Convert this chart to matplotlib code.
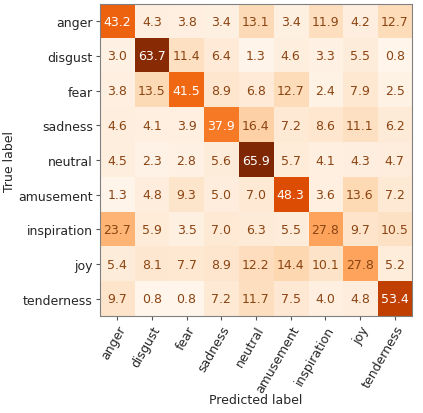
import numpy as np
import matplotlib
matplotlib.use("Agg")
import matplotlib.pyplot as plt

# class names
labels = ["anger", "disgust", "fear", "sadness", "neutral",
          "amusement", "inspiration", "joy", "tenderness"]

# confusion matrix values (percent), rows = true, cols = predicted
anger       = [43.2, 4.3, 3.8, 3.4, 13.1, 3.4, 11.9, 4.2, 12.7]
disgust     = [3.0, 63.7, 11.4, 6.4, 1.3, 4.6, 3.3, 5.5, 0.8]
fear        = [3.8, 13.5, 41.5, 8.9, 6.8, 12.7, 2.4, 7.9, 2.5]
sadness     = [4.6, 4.1, 3.9, 37.9, 16.4, 7.2, 8.6, 11.1, 6.2]
neutral     = [4.5, 2.3, 2.8, 5.6, 65.9, 5.7, 4.1, 4.3, 4.7]
amusement   = [1.3, 4.8, 9.3, 5.0, 7.0, 48.3, 3.6, 13.6, 7.2]
inspiration = [23.7, 5.9, 3.5, 7.0, 6.3, 5.5, 27.8, 9.7, 10.5]
joy         = [5.4, 8.1, 7.7, 8.9, 12.2, 14.4, 10.1, 27.8, 5.2]
tenderness  = [9.7, 0.8, 0.8, 7.2, 11.7, 7.5, 4.0, 4.8, 53.4]

cm = np.array([anger, disgust, fear, sadness, neutral,
               amusement, inspiration, joy, tenderness])

fs = 9
fig = plt.figure(figsize=(4.23, 4.14), dpi=100)
ax = fig.add_axes([0.236, 0.234, 0.738, 0.754])
ax.imshow(cm, cmap="Oranges", interpolation="nearest", aspect="auto")

thresh = cm.max() / 2.0
for i in range(cm.shape[0]):
    for j in range(cm.shape[1]):
        ax.text(j, i, "{:.1f}".format(cm[i, j]), ha="center", va="center",
                fontsize=fs,
                color="white" if cm[i, j] > thresh else "saddlebrown")

ax.set_xticks(np.arange(len(labels)))
ax.set_yticks(np.arange(len(labels)))
ax.set_xticklabels(labels, rotation=60, ha="right", rotation_mode="anchor",
                   fontsize=fs, color="#262626")
ax.set_yticklabels(labels, fontsize=fs, color="#262626")
ax.set_xlabel("Predicted label", fontsize=fs, color="#262626")
ax.set_ylabel("True label", fontsize=fs, color="#262626")
ax.xaxis.set_label_coords(0.5, -0.245)
ax.yaxis.set_label_coords(-0.268, 0.5)
for s in ax.spines.values():
    s.set_color("#808080")
ax.tick_params(color="#555555", length=3, pad=2)

plt.savefig("out.png", dpi=100)
